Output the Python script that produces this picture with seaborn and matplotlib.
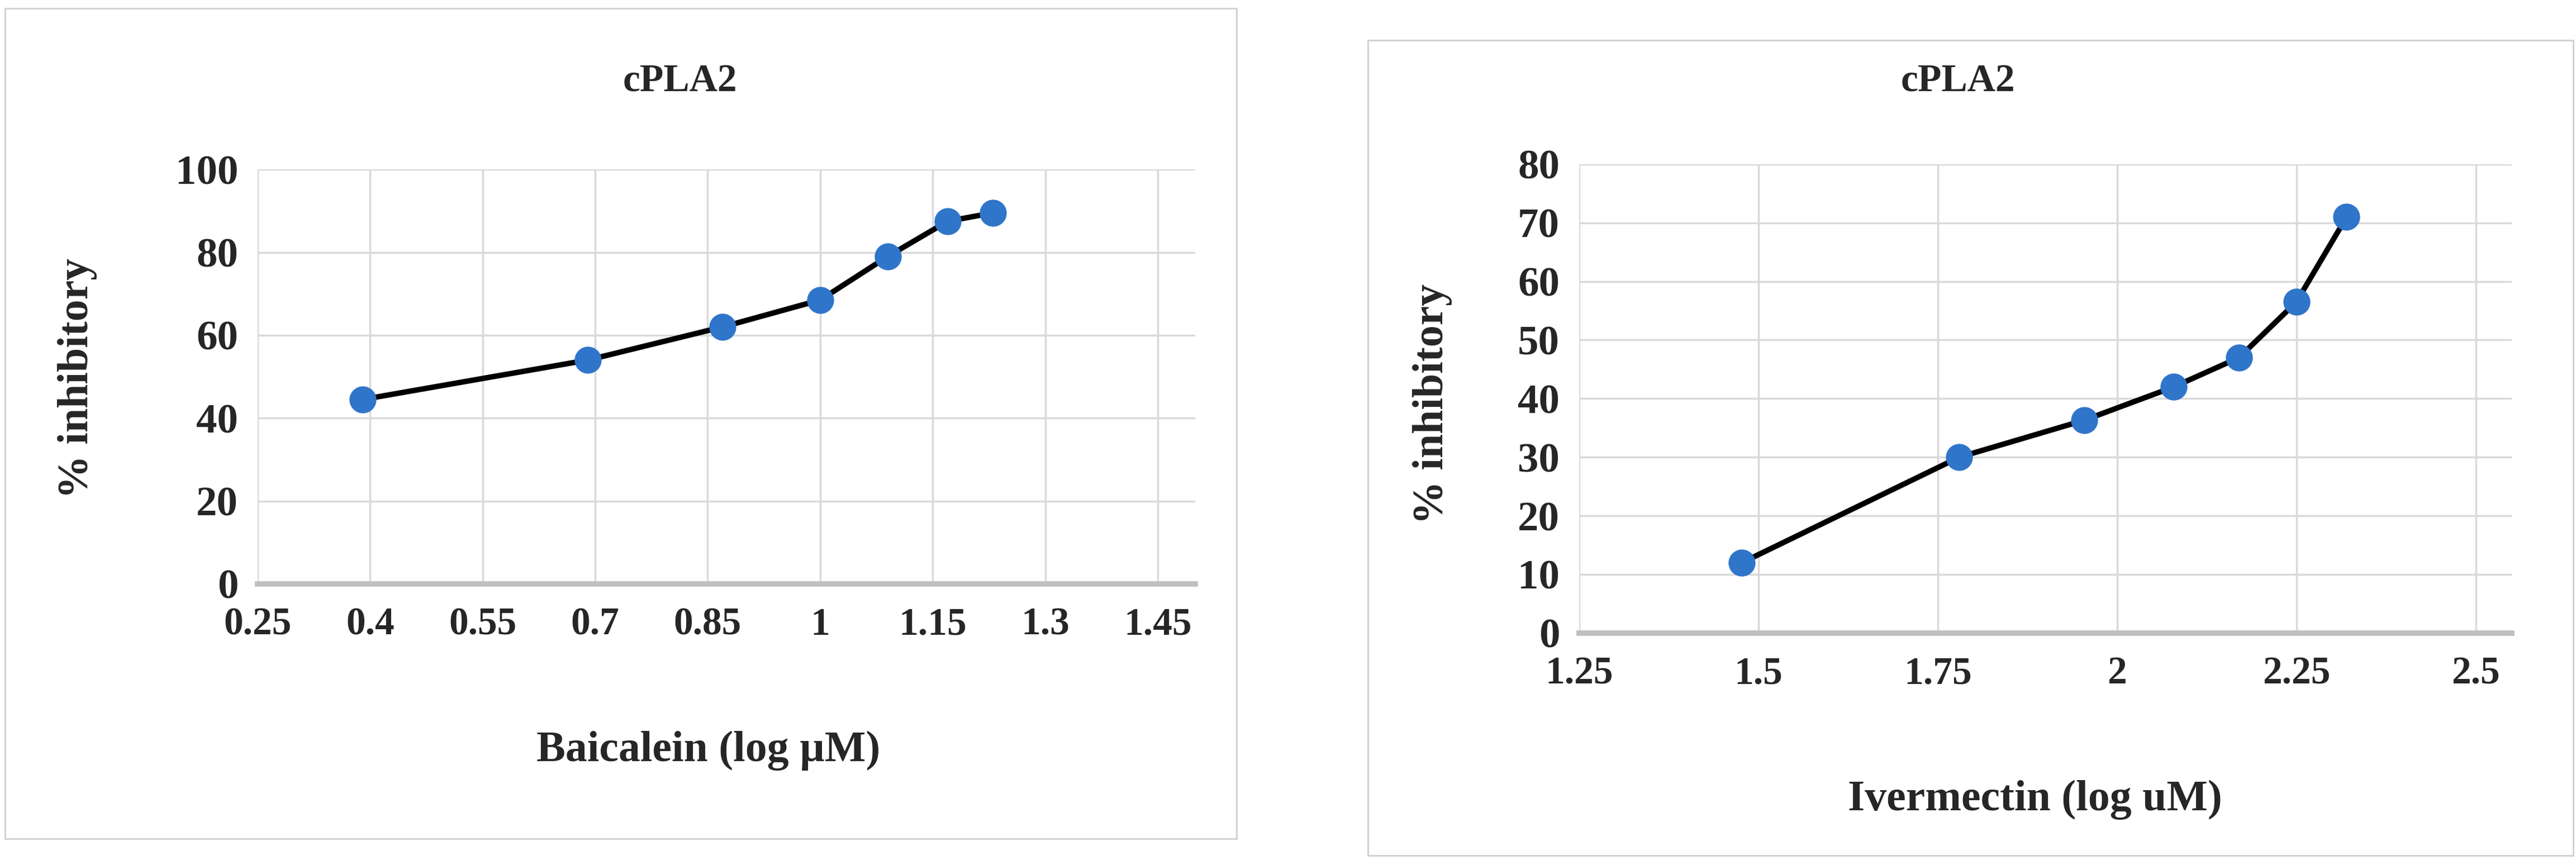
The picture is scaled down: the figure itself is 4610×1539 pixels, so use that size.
import matplotlib
matplotlib.use("Agg")
import matplotlib.pyplot as plt
import seaborn as sns
import pandas as pd
from matplotlib.patches import Rectangle

# Baicalein panel
baic_x = [0.39, 0.69, 0.87, 1.0, 1.09, 1.17, 1.23]
baic_y = [44.5, 54.0, 62.0, 68.5, 79.0, 87.5, 89.5]
baic_xticks = [0.25, 0.4, 0.55, 0.7, 0.85, 1.0, 1.15, 1.3, 1.45]
baic_xlabels = ["0.25", "0.4", "0.55", "0.7", "0.85", "1", "1.15", "1.3", "1.45"]
baic_yticks = [0, 20, 40, 60, 80, 100]

# Ivermectin panel
iver_x = [1.477, 1.78, 1.954, 2.079, 2.17, 2.25, 2.32]
iver_y = [12.0, 30.0, 36.3, 42.0, 47.0, 56.5, 71.0]
iver_xticks = [1.25, 1.5, 1.75, 2.0, 2.25, 2.5]
iver_xlabels = ["1.25", "1.5", "1.75", "2", "2.25", "2.5"]
iver_yticks = [0, 10, 20, 30, 40, 50, 60, 70, 80]

sns.set_style("white")
plt.rcParams["font.family"] = ["Liberation Serif", "DejaVu Serif"]
plt.rcParams["font.weight"] = "bold"

fig = plt.figure(figsize=(46.1, 15.39), dpi=100)

# panel frames
fig.patches.append(Rectangle((0.002, 0.025), 0.478, 0.965, transform=fig.transFigure,
                             fill=False, edgecolor="#d0d0d0", linewidth=2))
fig.patches.append(Rectangle((0.531, 0.005), 0.468, 0.948, transform=fig.transFigure,
                             fill=False, edgecolor="#d0d0d0", linewidth=2))


def draw(ax, xs, ys, xticks, xlabels, yticks, xlim, ylim):
    df = pd.DataFrame({"x": xs, "y": ys})
    sns.lineplot(data=df, x="x", y="y", ax=ax, color="black", linewidth=7,
                 marker="o", markersize=34, markerfacecolor="#2F75C9",
                 markeredgecolor="#2F75C9", sort=False)
    ax.set_xlim(*xlim)
    ax.set_ylim(*ylim)
    ax.set_xticks(xticks)
    ax.set_xticklabels(xlabels)
    ax.set_yticks(yticks)
    ax.grid(True, color="#d9d9d9", linewidth=2.5)
    for s in ["top", "right", "left"]:
        ax.spines[s].set_visible(False)
    ax.spines["bottom"].set_color("#bfbfbf")
    ax.spines["bottom"].set_linewidth(7)
    ax.tick_params(axis="x", length=0, labelsize=50, pad=30)
    ax.tick_params(axis="y", length=0, labelsize=54, pad=25)
    for lab in ax.get_xticklabels() + ax.get_yticklabels():
        lab.set_fontweight("bold")
    ax.set_xlabel("")
    ax.set_ylabel("")


ax1 = fig.add_axes([0.100, 0.321, 0.364, 0.482])
draw(ax1, baic_x, baic_y, baic_xticks, baic_xlabels, baic_yticks,
     (0.25, 1.5), (0, 100))
ax2 = fig.add_axes([0.613, 0.264, 0.362, 0.545])
draw(ax2, iver_x, iver_y, iver_xticks, iver_xlabels, iver_yticks,
     (1.25, 2.55), (0, 80))

fig.text(0.264, 0.905, "cPLA2", ha="center", va="center", fontsize=50, fontweight="bold")
fig.text(0.760, 0.905, "cPLA2", ha="center", va="center", fontsize=50, fontweight="bold")
fig.text(0.275, 0.127, "Baicalein (log µM)", ha="center", va="center", fontsize=56, fontweight="bold")
fig.text(0.790, 0.07, "Ivermectin (log uM)", ha="center", va="center", fontsize=56, fontweight="bold")
fig.text(0.030, 0.56, "% inhibitory", rotation=90, ha="center", va="center", fontsize=56, fontweight="bold")
fig.text(0.556, 0.53, "% inhibitory", rotation=90, ha="center", va="center", fontsize=56, fontweight="bold")

fig.savefig("out.png", dpi=100, facecolor="white")
